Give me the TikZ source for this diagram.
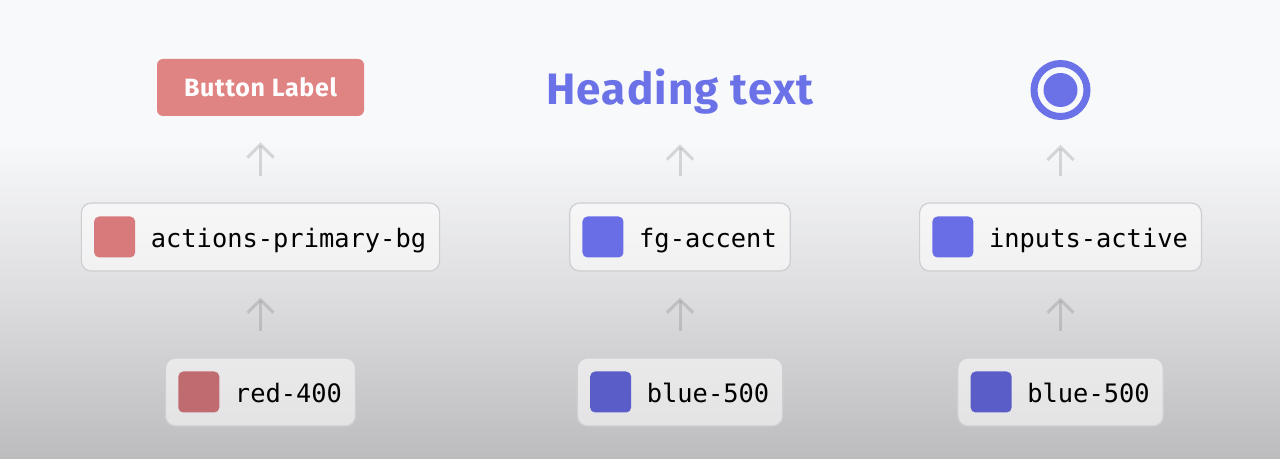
\documentclass[tikz,border=0pt]{standalone}
\usepackage{fontspec}
\setsansfont{Fira Sans}[LetterSpace=2.8]
\setmonofont{DejaVu Sans Mono}
\usetikzlibrary{positioning,arrows.meta}
\definecolor{bgTop}{HTML}{F8F9FB}
\definecolor{bgMid}{HTML}{DCDCDE}
\definecolor{bgBottom}{HTML}{BCBCBF}
\definecolor{tokenRed}{HTML}{E08383}
\definecolor{swatchRed}{HTML}{D87A7B}
\definecolor{baseRed}{HTML}{BF6B6F}
\definecolor{accentBlue}{HTML}{6B72E8}
\definecolor{swatchBlue}{HTML}{6A6EE6}
\definecolor{baseBlue}{HTML}{5A5DC8}
\definecolor{arrowGray}{HTML}{606066}
\definecolor{boxLine}{HTML}{CFCFD3}
\colorlet{textColor}{black}

\tikzset{
  tokenbox/.style={
    draw=boxLine,
    line width=0.6pt,
    fill=white,
    fill opacity=0.55,
    text opacity=1,
    rounded corners=5pt,
    minimum height=34pt,
    inner xsep=6.75pt,
    inner ysep=0pt,
    text height=10.4pt,
    text depth=0pt,
    text=textColor,
    font=\ttfamily\fontsize{12.7}{15}\selectfont,
  },
  swatch/.style={fill=#1, rounded corners=2.5pt, minimum size=20.5pt, inner sep=0pt},
  flow/.style={
    draw=arrowGray,
    draw opacity=0.22,
    line width=1.5pt,
    -{Straight Barb[length=6.5pt, width=13pt]},
    shorten <=13pt,
    shorten >=13pt,
  },
  topslot/.style={minimum height=28.5pt, inner sep=0pt},
}

\begin{document}
\begin{tikzpicture}[x=0.5pt, y=-0.5pt]
    % backdrop
    \fill[bgTop] (0, 0) rectangle (1280, 459);
    \shade[top color=bgTop, bottom color=bgMid] (0, 140) rectangle (1280, 300);
    \shade[top color=bgMid, bottom color=bgBottom] (0, 300) rectangle (1280, 459);
    \useasboundingbox (0, 0) rectangle (1280, 459);

    % what the user sees
    \node[topslot, fill=tokenRed, rounded corners=3pt, minimum width=103.5pt,
      text height=9pt, text depth=0pt,
      text=white, font=\sffamily\bfseries\fontsize{12.5}{15}\selectfont]
      (btn) at (260.5, 87.5) {Button Label};
    \node[topslot, text height=15pt, text depth=0pt,
      text=accentBlue, font=\sffamily\bfseries\fontsize{22}{26}\selectfont]
      (heading) at (680, 89.5) {Heading text};
    \node[topslot, minimum width=30pt] (radio) at (1060.5, 90) {};
    \draw[accentBlue, line width=3.5pt] (radio.center) circle[radius=13.25pt];
    \fill[accentBlue] (radio.center) circle[radius=8.5pt];

    % semantic tokens
    \node[tokenbox] (primaryBg) at (260.5, 237) {\hspace*{28pt}actions-primary-bg};
    \node[tokenbox] (fgAccent) at (680, 237) {\hspace*{28pt}fg-accent};
    \node[tokenbox] (inputsActive) at (1060.5, 237) {\hspace*{28pt}inputs-active};
    \node[swatch=swatchRed, right=6.5pt of primaryBg.west] (primaryBgSwatch) {};
    \node[swatch=swatchBlue, right=6.5pt of fgAccent.west] (fgAccentSwatch) {};
    \node[swatch=swatchBlue, right=6.5pt of inputsActive.west] (inputsActiveSwatch) {};

    % base palette
    \node[tokenbox] (red400) at (260.5, 392) {\hspace*{28pt}red-400};
    \node[tokenbox] (blue500) at (680, 392) {\hspace*{28pt}blue-500};
    \node[tokenbox] (blue500b) at (1060.5, 392) {\hspace*{28pt}blue-500};
    \node[swatch=baseRed, right=6.5pt of red400.west] (red400Swatch) {};
    \node[swatch=baseBlue, right=6.5pt of blue500.west] (blue500Swatch) {};
    \node[swatch=baseBlue, right=6.5pt of blue500b.west] (blue500bSwatch) {};

    \draw[flow] (red400.north) -- (primaryBg.south);
    \draw[flow] (blue500.north) -- (fgAccent.south);
    \draw[flow] (blue500b.north) -- (inputsActive.south);
    \draw[flow] (primaryBg.north) -- (btn.south);
    \draw[flow] (fgAccent.north) -- (heading.south);
    \draw[flow] (inputsActive.north) -- (radio.south);
  \end{tikzpicture}
\end{document}
